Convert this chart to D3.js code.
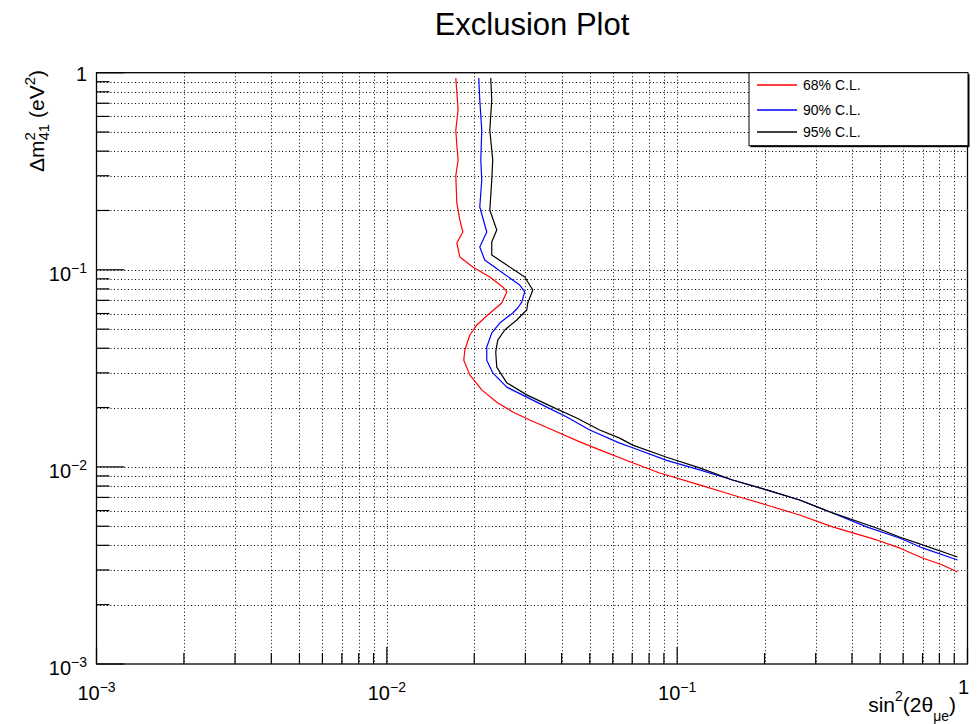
<!DOCTYPE html>
<html>
<head>
<meta charset="utf-8">
<script src="https://cdn.jsdelivr.net/npm/d3@7"></script>
<style>
  html, body { margin: 0; padding: 0; background: #fff; }
  svg { display: block; font-family: "Liberation Sans", Arial, Helvetica, sans-serif; }
  text { white-space: pre; }
</style>
</head>
<body>
<svg id="chart" width="980" height="724"></svg>
<script>
// ---------------- DATA ----------------
const chartTitle = "Exclusion Plot";
const xDomain = [0.001, 1];
const yDomain = [0.001, 1];
const xMajorTicks = [0.001, 0.01, 0.1, 1];
const xMajorLabels = [["10", "\u22123"], ["10", "\u22122"], ["10", "\u22121"], ["1", ""]];
const yMajorTicks = [0.001, 0.01, 0.1, 1];
const yMajorLabels = [["10", "\u22123"], ["10", "\u22122"], ["10", "\u22121"], ["1", ""]];
const seriesNames = ["68% C.L.", "90% C.L.", "95% C.L."];
const seriesColors = ["#ff0000", "#0000ff", "#000000"];

const cl68X = [0.01728, 0.01742, 0.01760, 0.01728, 0.01742, 0.01760, 0.01728, 0.01742, 0.01784, 0.01827, 0.01742, 0.01784, 0.01977, 0.02263, 0.02508, 0.02589, 0.02488, 0.02227, 0.02041, 0.01931, 0.01856, 0.01841, 0.01931, 0.02123, 0.02391, 0.02715, 0.03107, 0.03727, 0.04618, 0.05409, 0.07027, 0.08706, 0.1195, 0.1552, 0.2033, 0.2640, 0.3430, 0.4861, 0.5834, 0.7001, 0.8202, 0.9239];
const cl68Y = [0.940, 0.800, 0.650, 0.512, 0.430, 0.3607, 0.300, 0.2183, 0.1790, 0.1555, 0.1368, 0.1161, 0.1033, 0.0919, 0.0818, 0.0772, 0.0679, 0.0590, 0.0525, 0.0467, 0.0392, 0.0348, 0.0293, 0.0246, 0.0213, 0.0190, 0.0173, 0.0154, 0.0134, 0.0122, 0.0105, 0.00931, 0.00810, 0.00720, 0.00641, 0.00570, 0.00496, 0.00426, 0.00388, 0.00345, 0.00318, 0.00293];

const cl90X = [0.02073, 0.02090, 0.02123, 0.02107, 0.02123, 0.02090, 0.02209, 0.02090, 0.02174, 0.02508, 0.02870, 0.02985, 0.02915, 0.02824, 0.02715, 0.02449, 0.02298, 0.02209, 0.02209, 0.02316, 0.02589, 0.03033, 0.03555, 0.04166, 0.05000, 0.06340, 0.07027, 0.0920, 0.1195, 0.1552, 0.2033, 0.2640, 0.3430, 0.4490, 0.5834, 0.7001, 0.9239];
const cl90Y = [0.940, 0.727, 0.512, 0.3607, 0.2849, 0.2083, 0.1555, 0.1305, 0.1121, 0.0963, 0.0837, 0.0772, 0.0686, 0.0640, 0.0604, 0.0537, 0.0478, 0.0406, 0.0348, 0.0300, 0.0254, 0.0226, 0.0201, 0.0179, 0.0154, 0.0132, 0.0125, 0.0108, 0.00965, 0.00858, 0.00764, 0.00679, 0.00584, 0.00496, 0.00436, 0.00388, 0.00337];

const cl95X = [0.02280, 0.02298, 0.02263, 0.02316, 0.02298, 0.02263, 0.02391, 0.02298, 0.02298, 0.02589, 0.02985, 0.03182, 0.03058, 0.03033, 0.02802, 0.02548, 0.02410, 0.02372, 0.02391, 0.02589, 0.03033, 0.03727, 0.04508, 0.05409, 0.06340, 0.07027, 0.0920, 0.1195, 0.1552, 0.2033, 0.2640, 0.3430, 0.4861, 0.5834, 0.7001, 0.9239];
const cl95Y = [0.940, 0.727, 0.512, 0.3607, 0.2849, 0.2011, 0.1591, 0.1384, 0.1189, 0.1057, 0.0919, 0.0790, 0.0679, 0.0625, 0.0556, 0.0495, 0.0440, 0.0383, 0.0321, 0.0267, 0.0232, 0.0201, 0.0177, 0.0154, 0.0140, 0.0129, 0.0112, 0.00988, 0.00858, 0.00764, 0.00679, 0.00584, 0.00490, 0.00441, 0.00402, 0.00349];

// ---------------- LAYOUT ----------------
const L = 96.5, R = 967.5, T = 72.7, B = 664;
const svg = d3.select("#chart");
const x = d3.scaleLog().domain(xDomain).range([L, R]);
const y = d3.scaleLog().domain(yDomain).range([B, T]);

// all log ticks (1..9 x 10^k)
function logTicks(dom) {
  const out = [];
  const e0 = Math.round(Math.log10(dom[0])), e1 = Math.round(Math.log10(dom[1]));
  for (let e = e0; e < e1; e++) for (let k = 1; k <= 9; k++) out.push(k * Math.pow(10, e));
  out.push(Math.pow(10, e1));
  return out;
}
const xAll = logTicks(xDomain), yAll = logTicks(yDomain);
const isMajor = v => Math.abs(Math.log10(v) - Math.round(Math.log10(v))) < 1e-9;

// grid
const grid = svg.append("g").attr("stroke", "#000").attr("stroke-width", 1).attr("stroke-dasharray", "1,2.5");
grid.selectAll("line.gx").data(xAll.filter(v => v > xDomain[0] && v < xDomain[1])).enter().append("line")
  .attr("x1", d => Math.round(x(d)) + 0.5).attr("x2", d => Math.round(x(d)) + 0.5)
  .attr("y1", T).attr("y2", B);
grid.selectAll("line.gy").data(yAll.filter(v => v > yDomain[0] && v < yDomain[1])).enter().append("line")
  .attr("y1", d => Math.round(y(d)) + 0.5).attr("y2", d => Math.round(y(d)) + 0.5)
  .attr("x1", L).attr("x2", R);

// ticks (inside, ROOT style)
const ticks = svg.append("g").attr("stroke", "#000").attr("stroke-width", 1.2);
ticks.selectAll("line.tx").data(xAll).enter().append("line")
  .attr("x1", d => x(d)).attr("x2", d => x(d))
  .attr("y1", B).attr("y2", d => B - (isMajor(d) ? 17 : 11));
ticks.selectAll("line.ty").data(yAll).enter().append("line")
  .attr("y1", d => y(d)).attr("y2", d => y(d))
  .attr("x1", L).attr("x2", d => L + (isMajor(d) ? 28 : 13));

// frame
svg.append("rect").attr("x", L).attr("y", T).attr("width", R - L).attr("height", B - T)
  .attr("fill", "none").attr("stroke", "#000").attr("stroke-width", 1.3);

// curves
const line = d3.line().x(d => x(d[0])).y(d => y(d[1]));
const series = [
  d3.zip(cl68X, cl68Y),
  d3.zip(cl90X, cl90Y),
  d3.zip(cl95X, cl95Y)
];
svg.append("g").selectAll("path").data(series).enter().append("path")
  .attr("d", line).attr("fill", "none")
  .attr("stroke", (d, i) => seriesColors[i]).attr("stroke-width", 1.2)
  .attr("stroke-linejoin", "round");

// tick labels
const labFont = 20, supFont = 14;
function powerLabel(g, base, exp, anchorX, baseline, anchor) {
  const t = g.append("text").attr("y", baseline).attr("font-size", labFont).attr("fill", "#000");
  t.append("tspan").text(base);
  if (exp) t.append("tspan").attr("font-size", supFont).attr("dy", -8).text(exp);
  const w = t.node().getComputedTextLength();
  let sx = anchorX;
  if (anchor === "middle") sx = anchorX - w / 2;
  if (anchor === "end") sx = anchorX - w;
  t.attr("x", sx);
}
const labG = svg.append("g");
xMajorTicks.forEach((v, i) => {
  const [b, e] = xMajorLabels[i];
  const last = i === xMajorTicks.length - 1;
  powerLabel(labG, b, e, last ? x(v) - 4 : x(v), last ? 694 : 700, "middle");
});
yMajorTicks.forEach((v, i) => {
  const [b, e] = yMajorLabels[i];
  const bl = i === yMajorTicks.length - 1 ? y(v) + 8 : y(v) + 11;
  powerLabel(labG, b, e, 87, bl, "end");
});

// title
svg.append("text").attr("x", 532).attr("y", 35).attr("text-anchor", "middle")
  .attr("font-size", 31).attr("fill", "#000").text(chartTitle);

// x axis title: sin^2(2θ_μe), right aligned
(function () {
  const g = svg.append("g");
  const main = 21, small = 14, base = 712;
  const parts = [
    { t: "sin", s: main, dy: 0 },
    { t: "2", s: small, dy: -11 },
    { t: "(2\u03b8", s: main, dy: 0 },
    { t: "\u03bce", s: small, dy: 9 },
    { t: ")", s: main, dy: 0 }
  ];
  let cx = 0;
  parts.forEach(p => {
    const el = g.append("text").attr("font-size", p.s).attr("y", base + p.dy).attr("x", cx).attr("fill", "#000").text(p.t);
    cx += el.node().getComputedTextLength();
  });
  g.attr("transform", `translate(${956 - cx},0)`);
})();

// y axis title: Δm^2_41 (eV^2), rotated, ending at top y=70
(function () {
  const g = svg.append("g");
  const main = 21, small = 15;
  let cx = 0;
  function add(t, s, dy) {
    const el = g.append("text").attr("font-size", s).attr("x", cx).attr("y", dy).attr("fill", "#000").text(t);
    return el.node().getComputedTextLength();
  }
  cx += add("\u0394m", main, 0);
  const w2 = add("2", small, -9);
  const w41 = add("41", small, 5);
  cx += Math.max(w2, w41);
  cx += add("\u00a0(eV", main, 0);
  cx += add("2", small, -9);
  cx += add(")", main, 0);
  g.attr("transform", `translate(44,${70 + cx}) rotate(-90)`);
})();

// legend
(function () {
  const lx = 749, ly = 72.7, lw = 219, lh = 73;
  const g = svg.append("g");
  g.append("rect").attr("x", lx + 1.5).attr("y", ly + 1.5).attr("width", lw).attr("height", lh).attr("fill", "#000");
  g.append("rect").attr("x", lx).attr("y", ly).attr("width", lw).attr("height", lh)
    .attr("fill", "#fff").attr("stroke", "#000").attr("stroke-width", 1);
  const rows = [85, 110, 132];
  seriesNames.forEach((n, i) => {
    g.append("line").attr("x1", 757).attr("x2", 797).attr("y1", rows[i]).attr("y2", rows[i])
      .attr("stroke", seriesColors[i]).attr("stroke-width", 1.5);
    g.append("text").attr("x", 803).attr("y", rows[i] + 5).attr("font-size", 14).attr("fill", "#000").text(n);
  });
})();
</script>
</body>
</html>
